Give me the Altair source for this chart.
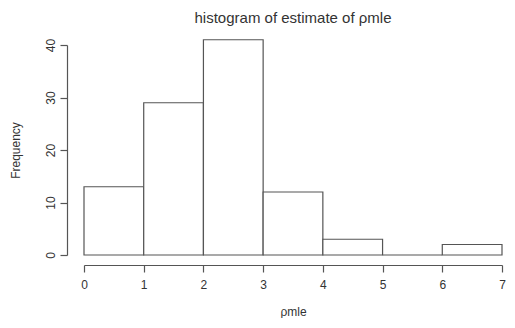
import altair as alt
import pandas as pd

bin_start = [0, 1, 2, 3, 4, 5, 6]
bin_end = [1, 2, 3, 4, 5, 6, 7]
counts = [13, 29, 41, 12, 3, 0, 2]

df = pd.DataFrame({"start": bin_start, "end": bin_end, "count": counts})

grey = "#555555"
txt = "#333333"
font = "Liberation Sans"

chart = alt.Chart(df).mark_rect(
    fill="white", stroke=grey, strokeWidth=1.2
).encode(
    x=alt.X("start:Q",
            scale=alt.Scale(domain=[0, 7], nice=False, zero=False),
            axis=alt.Axis(values=[0, 1, 2, 3, 4, 5, 6, 7], title="ρmle",
                          grid=False, offset=10, tickSize=7, labelPadding=7,
                          labelFlush=False, titlePadding=16, format="d")),
    x2="end:Q",
    y=alt.Y("count:Q",
            scale=alt.Scale(domain=[0, 40], nice=False, clamp=False),
            axis=alt.Axis(values=[0, 10, 20, 30, 40], title="Frequency",
                          grid=False, offset=17, tickSize=7, labelAngle=-90,
                          labelAlign="center", labelBaseline="bottom",
                          labelPadding=3, titlePadding=22)),
    y2=alt.datum(0),
).properties(
    width=418,
    height=210,
    title=alt.TitleParams("histogram of estimate of ρmle", fontSize=15,
                          fontWeight="normal", color=txt, font=font,
                          anchor="middle", offset=12),
    autosize=alt.AutoSizeParams(type="none"),
    padding={"left": 76, "top": 37, "right": 5, "bottom": 63},
).configure_view(
    stroke=None
).configure_axis(
    domainColor=grey, tickColor=grey, labelColor=txt, titleColor=txt,
    labelFont=font, titleFont=font, labelFontSize=12, titleFontSize=12,
    titleFontWeight="normal", domainWidth=1.2, tickWidth=1.2
)

chart.save("out.html", embed_options={"renderer": "svg", "actions": False})
